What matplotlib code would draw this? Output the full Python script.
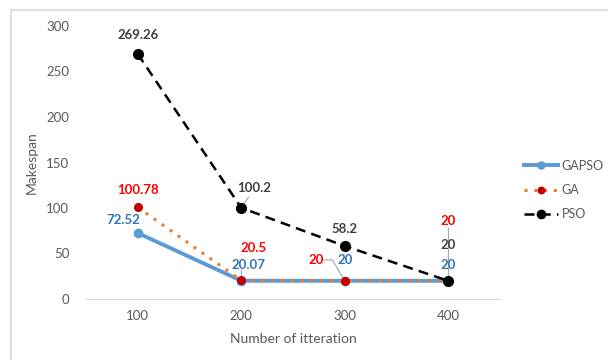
import matplotlib.pyplot as plt
from matplotlib.patches import Rectangle

iterations = [100, 200, 300, 400]
gapso = [72.52, 20.07, 20, 20]
ga = [100.78, 20.5, 20, 20]
pso = [269.26, 100.2, 58.2, 20]

plt.rcParams['font.family'] = ['Lato', 'DejaVu Sans']

fig = plt.figure(figsize=(6.08, 3.6), dpi=100)
ax = fig.add_axes([86/608, 1 - 299/360, 414/608, 273/360])

# outer chart border (only left/top visible in crop)
fig.patches.append(Rectangle((11/608, -0.1), 2, 1 - 10/360 + 0.1, transform=fig.transFigure,
                             fill=False, edgecolor='#d9d9d9', lw=1.2))

x = list(range(len(iterations)))
ax.plot(x, gapso, color='#5b9bd5', lw=2.8, marker='o', ms=6, label='GAPSO', zorder=3)
ax.plot(x, ga, color='#ed7d31', lw=2.2, ls=(0, (1, 2.2)), marker='o', ms=5.5,
        mfc='#c00000', mec='#c00000', label='GA', zorder=4)
ax.plot(x, pso, color='black', lw=1.8, ls=(0, (4, 2.5)), marker='o', ms=7,
        label='PSO', zorder=5)

ax.set_xlim(-0.5, 3.5)
ax.set_ylim(0, 300)
ax.set_xticks(x)
ax.set_xticklabels([str(i) for i in iterations])
ax.set_yticks(range(0, 301, 50))
for s in ['top', 'right', 'left']:
    ax.spines[s].set_visible(False)
ax.spines['bottom'].set_color('#d9d9d9')
ax.tick_params(axis='both', length=0, colors='#595959', labelsize=9.5)
ax.tick_params(axis='y', pad=12)
ax.tick_params(axis='x', pad=8)
ax.set_xlabel('Number of itteration', color='#595959', fontsize=10, labelpad=8)
ax.set_ylabel('Makespan', color='#595959', fontsize=10, labelpad=6)

blue = '#2e75b6'
red = '#ff0000'
grey = '#404040'
kw = dict(fontsize=9.5, fontweight='bold', ha='center', va='center')

def lab(text, xi, yv, color, pt=None):
    ax.text(xi, yv, text, color=color, **kw)
    if pt is not None:
        ax.plot([pt[0], pt[2], pt[4]], [pt[1], pt[3], pt[5]], color='#a6a6a6', lw=0.8, zorder=2)

lab(f'{pso[0]:g}', 0, 290, grey)
lab(f'{ga[0]:g}', 0, 120, red)
lab(f'{gapso[0]:g}', -0.14, 87, blue)
lab(f'{pso[1]:g}', 1.12, 122, grey, (1.0, pso[1], 1.07, 112, 1.07, 112))
lab(f'{ga[1]:g}', 1.12, 56, red)
lab(f'{gapso[1]:g}', 1.07, 37, blue, (1.0, ga[1], 1.0, 32, 1.0, 32))
lab(f'{pso[2]:g}', 2.0, 77, grey)
lab(f'{ga[2]:g}', 1.72, 43, red, (2.0, ga[2], 1.88, 43, 1.8, 43))
lab(f'{gapso[2]:g}', 2.0, 43, blue)
lab(f'{ga[3]:g}', 3.0, 86, red, (3.0, pso[3], 3.0, 78, 3.0, 78))
lab(f'{pso[3]:g}', 3.0, 59, grey)
lab(f'{gapso[3]:g}', 3.0, 37, blue)

leg = fig.legend(loc='center left', bbox_to_anchor=(524/608, 1 - 190/360), frameon=False,
                 fontsize=9, handlelength=2.7, labelspacing=1.0, handletextpad=0.3,
                 borderaxespad=0, borderpad=0, markerscale=0.85)
for t in leg.get_texts():
    t.set_color('#595959')

fig.savefig('out.png', dpi=100)
